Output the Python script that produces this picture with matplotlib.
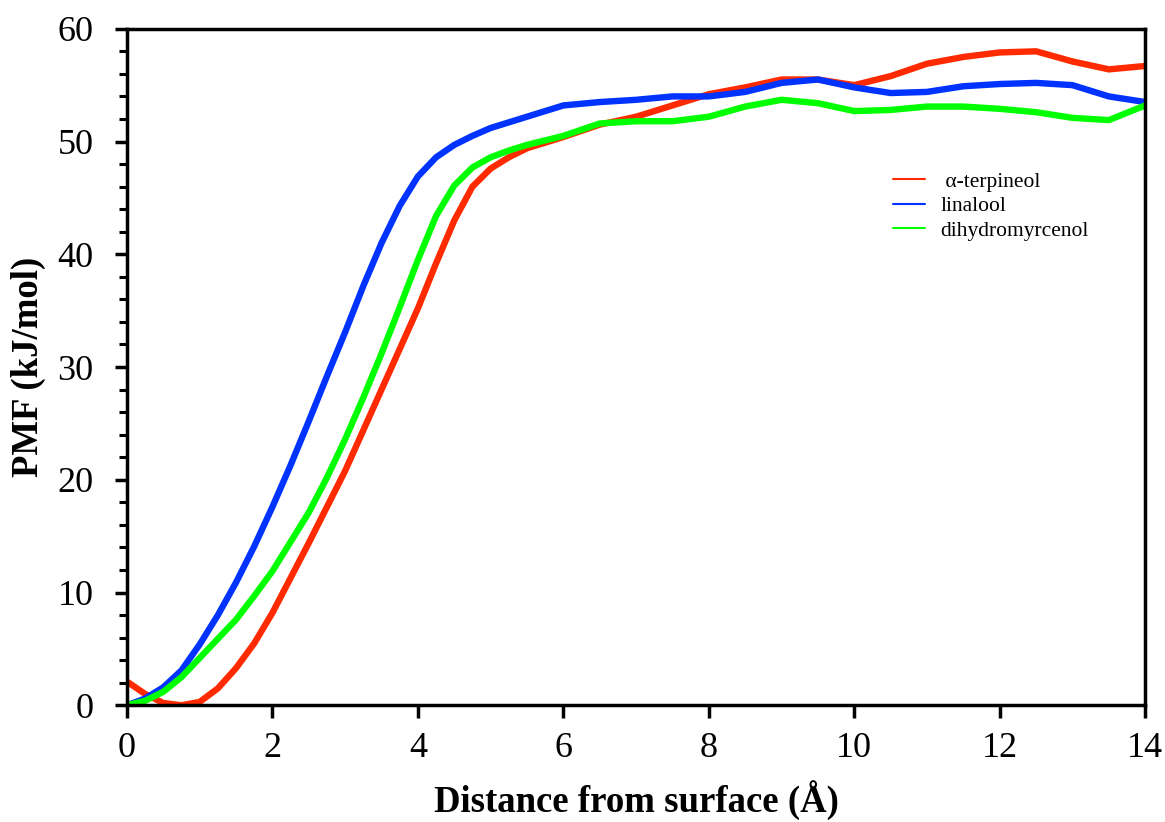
import numpy as np
import matplotlib.pyplot as plt
from matplotlib.ticker import MultipleLocator

# ---------------- DATA ----------------
distance = [0, 0.25, 0.5, 0.75, 1.0, 1.25, 1.5, 1.75, 2.0, 2.25, 2.5, 2.75,
            3.0, 3.25, 3.5, 3.75, 4.0, 4.25, 4.5, 4.75, 5.0, 5.25, 5.5, 5.75,
            6.0, 6.5, 7.0, 7.5, 8.0, 8.5, 9.0, 9.5, 10.0, 10.5, 11.0, 11.5,
            12.0, 12.5, 13.0, 13.5, 14.0]

terpineol = [2.1, 1.0, 0.2, 0.0, 0.3, 1.5, 3.3, 5.5, 8.2, 11.3, 14.4, 17.6,
             20.8, 24.4, 28.0, 31.6, 35.2, 39.2, 43.0, 46.0, 47.6, 48.6, 49.4, 49.9,
             50.4, 51.5, 52.2, 53.2, 54.2, 54.8, 55.5, 55.5, 55.0, 55.8, 56.9, 57.5,
             57.9, 58.0, 57.1, 56.4, 56.7]

linalool = [0.0, 0.6, 1.6, 3.1, 5.4, 8.0, 10.9, 14.1, 17.6, 21.3, 25.2, 29.2,
            33.1, 37.2, 41.0, 44.3, 46.9, 48.6, 49.7, 50.5, 51.2, 51.7, 52.2, 52.7,
            53.2, 53.5, 53.7, 54.0, 54.0, 54.4, 55.2, 55.5, 54.8, 54.3, 54.4, 54.9,
            55.1, 55.2, 55.0, 54.0, 53.5]

dihydromyrcenol = [0.0, 0.4, 1.2, 2.5, 4.2, 5.9, 7.6, 9.7, 11.9, 14.5, 17.1, 20.2,
                   23.6, 27.3, 31.2, 35.3, 39.5, 43.4, 46.1, 47.7, 48.6, 49.2, 49.7, 50.1,
                   50.5, 51.6, 51.8, 51.8, 52.2, 53.1, 53.7, 53.4, 52.7, 52.8, 53.1, 53.1,
                   52.9, 52.6, 52.1, 51.9, 53.2]

labels = [" \u03b1-terpineol", "linalool", "dihydromyrcenol"]
colors = ["#ff2a00", "#0033ff", "#00ff00"]
# ------------------------------------------------------------

plt.rcParams["font.family"] = ["Liberation Serif", "DejaVu Serif"]

fig = plt.figure(figsize=(11.65, 8.22), dpi=100)
ax = fig.add_axes([0.109, 0.142, 0.874, 0.823])

for ys, lab, col in zip([terpineol, linalool, dihydromyrcenol], labels, colors):
    ax.plot(distance, ys, color=col, lw=4.6, label=lab,
            solid_capstyle="round", solid_joinstyle="round")

ax.set_xlim(0, 14)
ax.set_ylim(0, 60)
ax.xaxis.set_major_locator(MultipleLocator(2))
ax.yaxis.set_major_locator(MultipleLocator(10))
ax.yaxis.set_minor_locator(MultipleLocator(2))

for sp in ax.spines.values():
    sp.set_linewidth(2.5)

ax.tick_params(axis="both", which="major", direction="out", length=9, width=2.5,
               labelsize=26)
ax.tick_params(axis="x", which="major", pad=10)
ax.tick_params(axis="y", which="major", pad=15)
ax.tick_params(axis="y", which="minor", direction="out", length=6, width=2.2)

ax.set_xlabel("Distance from surface (\u00c5)", fontsize=26.5, fontweight="bold", labelpad=11)
ax.set_ylabel("PMF (kJ/mol)", fontsize=26.5, fontweight="bold", labelpad=8)

leg = ax.legend(loc="upper left", bbox_to_anchor=(0.733, 0.817), frameon=False,
                fontsize=15.5, handlelength=1.5, handletextpad=0.7, labelspacing=0.2)
for line in leg.get_lines():
    line.set_linewidth(1.5)

fig.savefig("out.png", dpi=100)
